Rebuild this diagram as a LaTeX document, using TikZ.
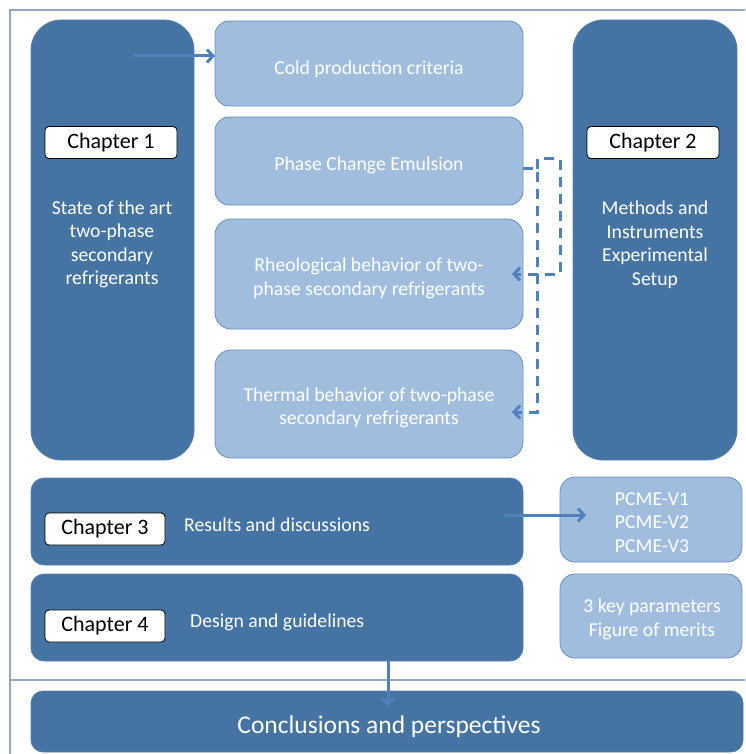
\documentclass[tikz,border=0pt]{standalone}
\usepackage{fontspec}
\setmainfont{Carlito}
\usetikzlibrary{arrows.meta,calc}
\definecolor{darkfill}{RGB}{69,115,162}
\definecolor{darkline}{RGB}{85,128,175}
\definecolor{lightfill}{RGB}{161,189,222}
\definecolor{lightline}{RGB}{105,143,192}
\definecolor{connblue}{RGB}{79,129,189}
\definecolor{framecol}{RGB}{150,170,200}
\tikzset{
  box/.style={rectangle, inner sep=0pt, outer sep=0pt, line width=0.8pt},
  darkbox/.style={box, fill=darkfill, draw=darkline},
  lightbox/.style={box, fill=lightfill, draw=lightline},
  chaplabel/.style={box, fill=white, draw=black, rounded corners=4pt, line width=0.8pt,
    minimum height=32, font=\fontsize{22}{26}\selectfont},
  bodytext/.style={text=white, align=center, inner sep=0pt, font=\fontsize{19.7}{23.5}\selectfont},
  conn/.style={draw=connblue, line width=3pt, -{Straight Barb[length=6pt,width=13pt]}},
  dconn/.style={conn, dash pattern=on 10pt off 7pt},
  framel/.style={draw=framecol, line width=1.2pt}
}
\begin{document}
\begin{tikzpicture}[x=1pt,y=-1pt]
\useasboundingbox (0,0) rectangle (745,754);
% frame
\draw[framel] (745,10) -- (10,10) -- (10,754);
\draw[framel] (10,680) -- (745,680);
% big dark columns
\node[darkbox, rounded corners=30pt, minimum width=163, minimum height=440] (ch1) at (112.5,240) {};
\node[darkbox, rounded corners=30pt, minimum width=164, minimum height=440] (ch2) at (655,240) {};
% light boxes
\node[lightbox, rounded corners=14pt, minimum width=308, minimum height=85] (cold) at (369,63.5) {};
\node[lightbox, rounded corners=14pt, minimum width=308, minimum height=88] (pce) at (369,161) {};
\node[lightbox, rounded corners=16pt, minimum width=308, minimum height=110] (rheo) at (369,274) {};
\node[lightbox, rounded corners=16pt, minimum width=308, minimum height=108] (therm) at (369,404) {};
% chapter 3/4 rows
\node[darkbox, rounded corners=13pt, minimum width=492, minimum height=87] (ch3) at (277,521.5) {};
\node[darkbox, rounded corners=13pt, minimum width=492, minimum height=87] (ch4) at (277,617.5) {};
\node[lightbox, rounded corners=15pt, minimum width=182, minimum height=85] (pcme) at (651,519.5) {};
\node[lightbox, rounded corners=15pt, minimum width=182, minimum height=84] (keys) at (651,616) {};
% conclusions
\node[darkbox, rounded corners=12pt, minimum width=712, minimum height=61] (concl) at (387,721.5) {};
% labels
\node[chaplabel, minimum width=132] (l1) at (111,142.5) {\raisebox{-1pt}{Chapter 1}};
\node[chaplabel, minimum width=132] (l2) at (653,142.5) {\raisebox{-1pt}{Chapter 2}};
\node[chaplabel, minimum width=120] (l3) at (105,529) {\raisebox{-1pt}{Chapter 3}};
\node[chaplabel, minimum width=120] (l4) at (105,626) {\raisebox{-1pt}{Chapter 4}};
% texts
\node[bodytext] (t1) at (112,244.5) {State of the art\\two-phase\\secondary\\refrigerants};
\node[bodytext] (t2) at (655,244.5) {Methods and\\Instruments\\Experimental\\Setup};
\node[bodytext] (tcold) at (369,69) {Cold production criteria};
\node[bodytext] (tpce) at (369,165) {Phase Change Emulsion};
\node[bodytext] (trheo) at (369,278.5) {Rheological behavior of two-\\phase secondary refrigerants};
\node[bodytext] (ttherm) at (369,408) {Thermal behavior of two-phase\\secondary refrigerants};
\node[bodytext, anchor=west] (t3) at (184,525) {Results and discussions};
\node[bodytext, anchor=west] (t4) at (190,622) {Design and guidelines};
\node[bodytext] (tpcme) at (652,522.5) {PCME-V1\\PCME-V2\\PCME-V3};
\node[bodytext] (tkeys) at (652,619.5) {3 key parameters\\Figure of merits};
\node[text=white, inner sep=0pt, font=\fontsize{25.5}{30}\selectfont] (tconcl) at (389,727) {Conclusions and perspectives};
% connectors
\coordinate (a1) at (133,56);
\draw[conn] (a1) -- (a1 -| cold.west);
\coordinate (a3s) at (505,515);
\coordinate (a3e) at (586,515);
\draw[conn] (a3s) -- (a3e);
\coordinate (a4s) at (388,661);
\coordinate (a4e) at (388,706);
\draw[conn] (a4s) -- (a4e);
% dashed connectors
\coordinate (d0) at (523,169);
\coordinate (d1) at (537,169);
\coordinate (d2) at (537,412);
\coordinate (d2e) at (512,412);
\coordinate (d3) at (537,159);
\coordinate (d4) at (560,159);
\coordinate (d5) at (560,274);
\coordinate (d5e) at (512,274);
\draw[dconn] (d0) -- (d1) -- (d2) -- (d2e);
\draw[dconn] (d1) -- (d3) -- (d4) -- (d5) -- (d5e);
\end{tikzpicture}
\end{document}
